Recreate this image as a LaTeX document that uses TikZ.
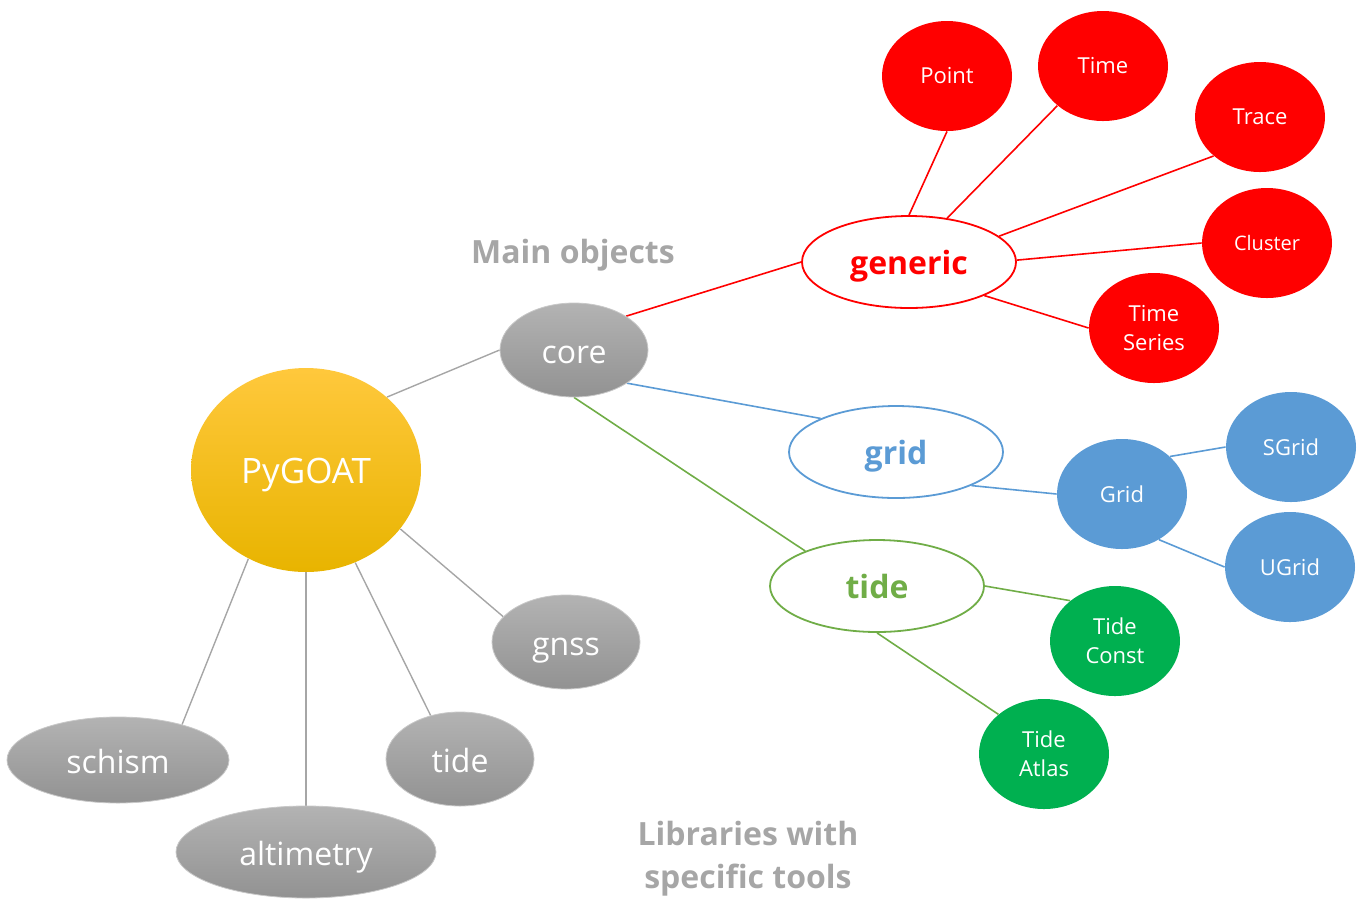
\documentclass[tikz,border=0pt]{standalone}
\usepackage{fontspec}
\setmainfont{Open Sans}
\usetikzlibrary{shapes.geometric,backgrounds}
\definecolor{gtop}{HTML}{B3B3B3}
\definecolor{gbot}{HTML}{929292}
\definecolor{gedge}{HTML}{C8C8C8}
\definecolor{ytop}{HTML}{FFC83C}
\definecolor{ymid}{HTML}{FFC300}
\definecolor{ybot}{HTML}{E8B400}
\definecolor{lgray}{HTML}{A6A6A6}
\definecolor{myred}{HTML}{FF0000}
\definecolor{myblue}{HTML}{5B9BD5}
\definecolor{mygreen}{HTML}{00B050}
\definecolor{lgreen}{HTML}{70AD47}
\tikzset{
  rootnode/.style={ellipse, inner sep=0pt, minimum width=115pt, minimum height=102pt,
    top color=ytop, middle color=ymid, bottom color=ybot, text=white,
    text height=13pt, text depth=0pt,
    font=\fontsize{17.5}{21}\selectfont},
  libnode/.style={ellipse, inner sep=0pt, minimum width=74pt, minimum height=47pt,
    top color=gtop, bottom color=gbot, draw=gedge, line width=0.4pt, text=white,
    text height=13pt, text depth=0pt,
    font=\fontsize{16}{19}\selectfont},
  catnode/.style={ellipse, inner sep=0pt, minimum width=107pt, minimum height=46pt,
    fill=white, line width=0.9pt, text height=12.5pt, text depth=0pt,
    font=\bfseries\fontsize{16}{19}\selectfont},
  leafnode/.style={ellipse, inner sep=0pt, minimum width=65pt, minimum height=55pt,
    text=white, align=center, font=\fontsize{11}{14.5}\selectfont},
  redleaf/.style={leafnode, fill=myred},
  blueleaf/.style={leafnode, fill=myblue},
  greenleaf/.style={leafnode, fill=mygreen},
  glink/.style={draw=lgray, line width=0.7pt},
  rlink/.style={draw=myred, line width=0.8pt},
  blink/.style={draw=myblue, line width=0.8pt},
  grlink/.style={draw=lgreen, line width=0.8pt},
  caption/.style={text=lgray, align=center, font=\bfseries\fontsize{16}{21.5}\selectfont}
}
\begin{document}
\begin{tikzpicture}[x=0.5pt,y=-0.5pt]
\useasboundingbox (0,0) rectangle (1366,902);
% main
\node[rootnode] (pygoat) at (306,470) {PyGOAT};
\node[libnode] (core) at (574,350) {core};
\node[libnode] (gnss) at (566,642) {gnss};
\node[libnode] (tidelib) at (460,759) {tide};
\node[libnode, minimum width=111pt, minimum height=43pt] (schism) at (118,760) {schism};
\node[libnode, minimum width=130pt, minimum height=46pt] (alti) at (306,852) {altimetry};
% categories
\node[catnode, draw=myred, text=myred] (generic) at (909,262) {generic};
\node[catnode, draw=myblue, text=myblue] (grid) at (896,452) {grid};
\node[catnode, draw=lgreen, text=lgreen] (tide) at (877,586) {tide};
% leaves
\node[redleaf] (point) at (947,76) {Point};
\node[redleaf] (time) at (1103,66) {Time};
\node[redleaf] (trace) at (1260,117) {Trace};
\node[redleaf, font=\fontsize{10}{13}\selectfont] (cluster) at (1267,243) {Cluster};
\node[redleaf] (tseries) at (1154,328) {Time\\Series};
\node[blueleaf] (gridc) at (1122,494) {Grid};
\node[blueleaf] (sgrid) at (1291,447) {SGrid};
\node[blueleaf] (ugrid) at (1290,567) {UGrid};
\node[greenleaf] (tconst) at (1115,641) {Tide\\Const};
\node[greenleaf] (tatlas) at (1044,754) {Tide\\Atlas};
% captions
\node[caption] (mainobj) at (573,255) {Main objects};
\node[caption] (libs) at (748,859) {Libraries with\\specific tools};
% links
\begin{scope}[on background layer]
\draw[glink] (pygoat.42) -- (core.180);
\draw[glink] (pygoat.-32) -- (gnss.158);
\draw[glink] (pygoat.-62) -- (tidelib.124);
\draw[glink] (pygoat.-90) -- (alti.90);
\draw[glink] (pygoat.237) -- (schism.29);
\draw[rlink] (core.33) -- (generic.180);
\draw[blink] (core.-32) -- (grid.156);
\draw[grlink] (core.-90) -- (tide.154);
\draw[rlink] (generic.90) -- (point.-90);
\draw[rlink] (generic.49) -- (time.221);
\draw[rlink] (generic.16) -- (trace.220);
\draw[rlink] (generic.1) -- (cluster.180);
\draw[rlink] (generic.-24) -- (tseries.180);
\draw[blink] (grid.-24) -- (gridc.180);
\draw[blink] (gridc.38) -- (sgrid.180);
\draw[blink] (gridc.-51) -- (ugrid.180);
\draw[grlink] (tide.0) -- (tconst.138);
\draw[grlink] (tide.-90) -- (tatlas.139);
\end{scope}
\end{tikzpicture}
\end{document}
